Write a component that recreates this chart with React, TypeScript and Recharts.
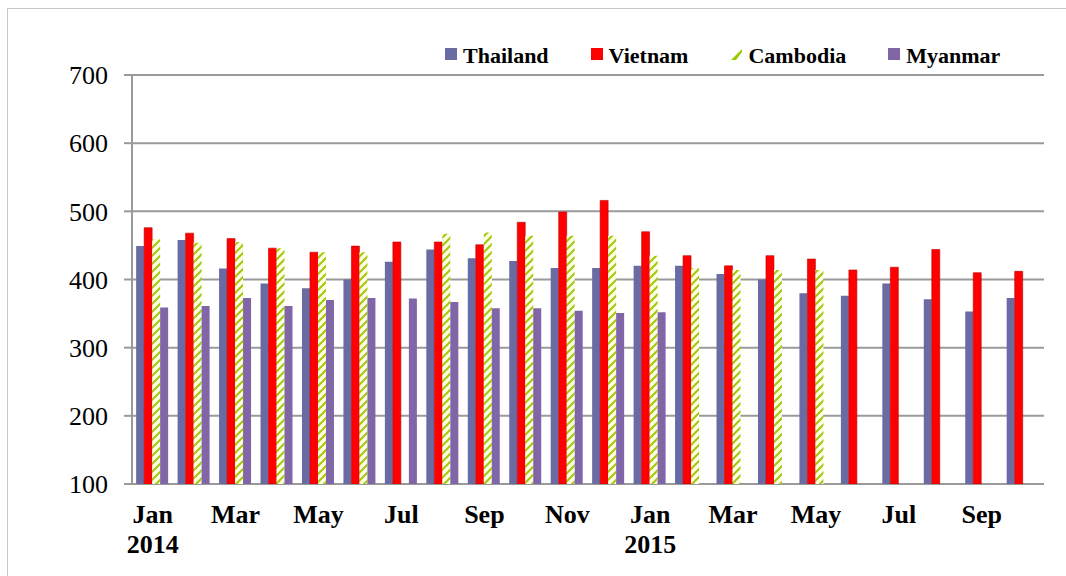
import { BarChart, Bar, XAxis, YAxis, CartesianGrid, Legend } from "recharts"

const months = [
  "Jan 2014", "Feb 2014", "Mar 2014", "Apr 2014", "May 2014", "Jun 2014",
  "Jul 2014", "Aug 2014", "Sep 2014", "Oct 2014", "Nov 2014", "Dec 2014",
  "Jan 2015", "Feb 2015", "Mar 2015", "Apr 2015", "May 2015", "Jun 2015",
  "Jul 2015", "Aug 2015", "Sep 2015", "Oct 2015",
]

const thailand = [449, 458, 416, 394, 387, 400, 426, 444, 431, 427, 417, 417, 420, 420, 408, 400, 380, 376, 394, 371, 353, 373]
const vietnam = [476, 468, 460, 446, 440, 449, 455, 455, 451, 484, 499, 516, 470, 435, 420, 435, 430, 414, 418, 444, 410, 412]
const cambodia = [459, 454, 455, 446, 440, 440, null, 467, 469, 464, 464, 464, 435, 417, 414, 414, 414, null, null, null, null, null]
const myanmar = [359, 361, 373, 361, 370, 373, 372, 367, 358, 358, 354, 351, 352, null, null, null, null, null, null, null, null, null]

const yTicks = [100, 200, 300, 400, 500, 600, 700]
const edgeTicks = months.map((_, i) => i).concat([months.length])

const data = months.map((m, i) => ({
  month: m,
  Thailand: thailand[i],
  Vietnam: vietnam[i],
  Cambodia: cambodia[i],
  Myanmar: myanmar[i],
}))

const SERIF = "'Liberation Serif', 'Times New Roman', serif"
const GRID = "#9a9a9a"

const LEGEND = [
  { name: "Thailand", fill: "#6b6ba3" },
  { name: "Vietnam", fill: "#ff0000" },
  { name: "Cambodia", fill: "#99cc00" },
  { name: "Myanmar", fill: "#8066a6" },
]

function MonthTick(props: any) {
  const { x, y, payload } = props
  if (payload.index % 2 === 1) return null
  const [mon, year] = String(payload.value).split(" ")
  const showYear = mon === "Jan"
  return (
    <text x={x} y={y} textAnchor="middle" fontFamily={SERIF} fontSize={26} fontWeight="bold" fill="#000">
      <tspan x={x} dy={39}>{mon}</tspan>
      {showYear && <tspan x={x} dy={30}>{year}</tspan>}
    </text>
  )
}

function LegendBox() {
  return (
    <div style={{ display: "flex", alignItems: "flex-start", fontFamily: SERIF, fontWeight: "bold", fontSize: 22, lineHeight: "22px", color: "#000" }}>
      {LEGEND.map((it) => (
        <div key={it.name} style={{ display: "flex", alignItems: "flex-start", marginRight: 42 }}>
          <svg width={12} height={12} style={{ marginTop: 3, marginRight: 6 }}>
            {it.name === "Cambodia" ? (
              <polygon points="1,12 12,1 12,4 6,12" fill={it.fill} />
            ) : (
              <rect width={12} height={12} fill={it.fill} />
            )}
          </svg>
          <span>{it.name}</span>
        </div>
      ))}
    </div>
  )
}

export default function App() {
  return (
    <div style={{ position: "absolute", left: 0, top: 0, width: 1066, height: 576, background: "#fff" }}>
      <div style={{ position: "absolute", left: 7, top: 8, width: 1059, height: 568, borderLeft: "1px solid #c8c8c8", borderTop: "1px solid #c8c8c8", pointerEvents: "none" }} />
      <BarChart
        width={1066}
        height={576}
        data={data}
        margin={{ top: 75, right: 22, bottom: 12, left: 0 }}
        barCategoryGap="10%"
        barGap={0}
      >
        <defs>
          <pattern id="hatch" patternUnits="userSpaceOnUse" width={8} height={8}>
            <rect width={8} height={8} fill="#fdfde2" />
            <path d="M-2,2 L2,-2 M0,8 L8,0 M6,10 L10,6" stroke="#a2c80a" strokeWidth={2} />
          </pattern>
        </defs>
        <CartesianGrid vertical={false} stroke={GRID} strokeWidth={2} />
        <XAxis
          xAxisId="edge"
          type="number"
          domain={[0, months.length]}
          ticks={edgeTicks}
          tick={false}
          tickSize={8}
          height={0}
          stroke={GRID}
          strokeWidth={2}
          allowDataOverflow
        />
        <XAxis
          xAxisId="cat"
          dataKey="month"
          interval={0}
          height={80}
          axisLine={false}
          tickLine={false}
          tickSize={0}
          tickMargin={0}
          tick={<MonthTick />}
        />
        <YAxis
          domain={[100, 700]}
          ticks={yTicks}
          width={132}
          stroke={GRID}
          strokeWidth={2}
          tickSize={8}
          tickMargin={16}
          tick={{ fontSize: 26, fontFamily: SERIF, fill: "#000" }}
          allowDataOverflow
        />
        <Legend
          layout="horizontal"
          verticalAlign="middle"
          align="center"
          wrapperStyle={{ top: 45, left: 445, width: 620 }}
          content={<LegendBox />}
        />
        <Bar xAxisId="cat" dataKey="Thailand" fill="#6b6ba3" isAnimationActive={false} />
        <Bar xAxisId="cat" dataKey="Vietnam" fill="#ff0000" stroke="#c00000" strokeWidth={0.6} isAnimationActive={false} />
        <Bar xAxisId="cat" dataKey="Cambodia" fill="url(#hatch)" isAnimationActive={false} />
        <Bar xAxisId="cat" dataKey="Myanmar" fill="#8066a6" isAnimationActive={false} />
      </BarChart>
    </div>
  )
}
